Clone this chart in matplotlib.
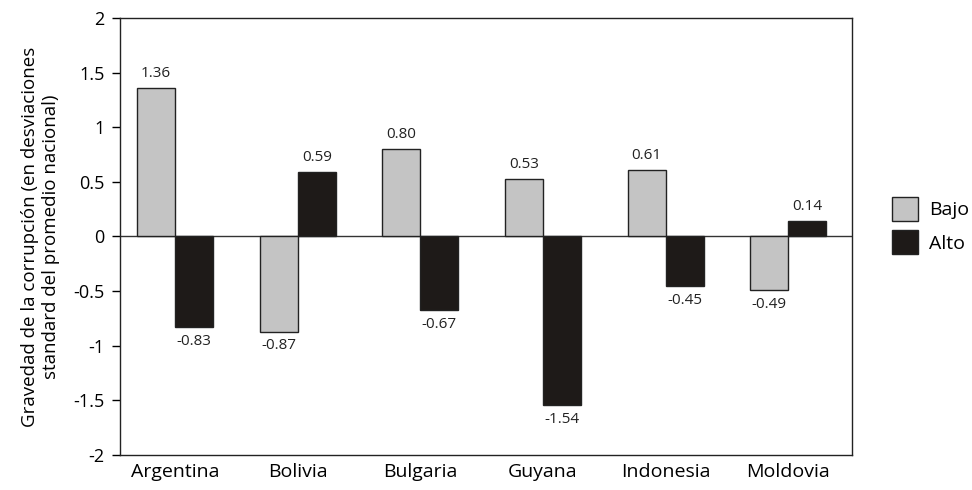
import matplotlib
matplotlib.use('Agg')
import matplotlib.pyplot as plt
import numpy as np

COUNTRIES = ['Argentina', 'Bolivia', 'Bulgaria', 'Guyana', 'Indonesia', 'Moldovia']
BAJO = [1.36, -0.87, 0.80, 0.53, 0.61, -0.49]
ALTO = [-0.83, 0.59, -0.67, -1.54, -0.45, 0.14]
LABELS_BAJO = ['1.36', '-0.87', '0.80', '0.53', '0.61', '-0.49']
LABELS_ALTO = ['-0.83', '0.59', '-0.67', '-1.54', '-0.45', '0.14']
YTICKS = [-2, -1.5, -1, -0.5, 0, 0.5, 1, 1.5, 2]
YTICKLABELS = ['-2', '-1.5', '-1', '-0.5', '0', '0.5', '1', '1.5', '2']

GRAY = '#C4C4C4'
BLACK = '#1E1A18'

plt.rcParams['font.family'] = ['Open Sans', 'DejaVu Sans']

fig = plt.figure(figsize=(9.72, 4.9), dpi=100)
ax = fig.add_axes([0.1235, 0.0714, 0.753, 0.892])

x = np.arange(len(COUNTRIES))
w = 0.31
b1 = ax.bar(x - w / 2, BAJO, w, color=GRAY, edgecolor='#222222', linewidth=1.0,
            label='Bajo', zorder=3)
b2 = ax.bar(x + w / 2, ALTO, w, color=BLACK, edgecolor='#222222', linewidth=1.0,
            label='Alto', zorder=3)

ax.axhline(0, color='#333333', linewidth=1.0, zorder=2)

for bars, labels in ((b1, LABELS_BAJO), (b2, LABELS_ALTO)):
    for rect, lab in zip(bars, labels):
        h = rect.get_height()
        xc = rect.get_x() + rect.get_width() / 2
        if h >= 0:
            ax.annotate(lab, (xc, h), xytext=(0, 5), textcoords='offset points',
                        ha='center', va='bottom', fontsize=11, color='#222222')
        else:
            ax.annotate(lab, (xc, h), xytext=(0, -5), textcoords='offset points',
                        ha='center', va='top', fontsize=11, color='#222222')

ax.set_xlim(-0.45, 5.52)
ax.set_ylim(-2, 2)
ax.set_yticks(YTICKS)
ax.set_yticklabels(YTICKLABELS, fontsize=13)
ax.set_xticks(x)
ax.set_xticklabels(COUNTRIES, fontsize=14)
ax.tick_params(axis='x', length=0, pad=6)
ax.tick_params(axis='y', length=6, width=1, direction='out', pad=5)
for s in ax.spines.values():
    s.set_linewidth(1.0)
    s.set_color('#222222')

ax.set_ylabel('Gravedad de la corrupción (en desviaciones\nstandard del promedio nacional)',
              fontsize=13.5, labelpad=10)

fig.legend(handles=[b1, b2], labels=['Bajo', 'Alto'], loc='center left',
           bbox_to_anchor=(0.9, 0.54), frameon=False, fontsize=14,
           handlelength=1.3, handleheight=1.5, handletextpad=0.6, labelspacing=0.5)

fig.savefig('out.png', dpi=100)
